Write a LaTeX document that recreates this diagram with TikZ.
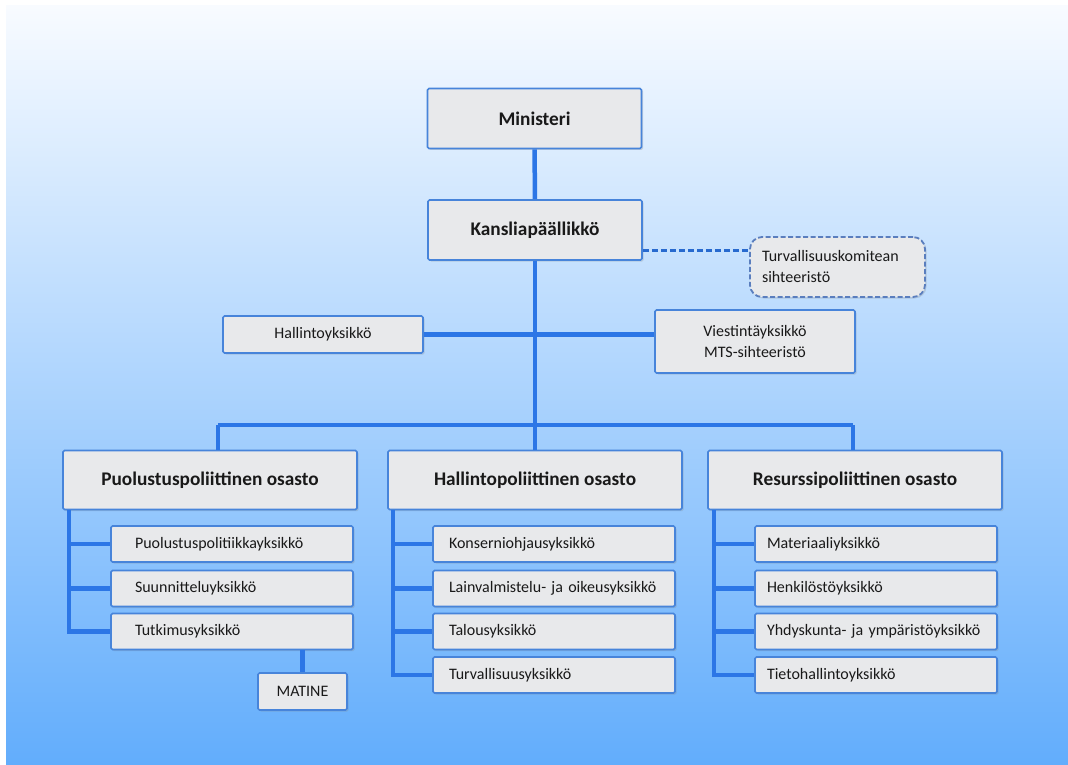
\documentclass[tikz,border=0pt]{standalone}
\usepackage{fontspec}
\setmainfont{Carlito}
\usetikzlibrary{shadows}
\definecolor{bgtop}{HTML}{F8FBFF}
\definecolor{bgbot}{HTML}{62ADFC}
\definecolor{boxfill}{HTML}{E8E9EB}
\definecolor{boxline}{HTML}{4784DA}
\definecolor{linkblue}{HTML}{2C76E6}
\definecolor{dashline}{HTML}{5A7EBE}
\tikzset{
  box/.style={draw=boxline, line width=1.6pt, fill=boxfill, rounded corners=1.5pt,
    drop shadow={opacity=0.25, shadow xshift=1.5pt, shadow yshift=-1.5pt}, text=black!90},
  head/.style={box, font=\fontsize{19.3}{22}\selectfont\bfseries, minimum width=214pt, minimum height=60pt},
  dept/.style={box, font=\fontsize{19.3}{22}\selectfont\bfseries, minimum width=294pt, minimum height=59pt},
  unit/.style={box, font=\fontsize{16}{21}\selectfont, minimum height=36pt, inner ysep=0pt, align=left},
  unitL/.style={unit, inner xsep=24pt, text width=194pt},
  unitM/.style={unit, inner xsep=16pt, text width=210pt},
  unitR/.style={unit, inner xsep=12pt, text width=218pt},
  link/.style={draw=linkblue, line width=4.5pt},
}
\begin{document}
\begin{tikzpicture}[x=1pt,y=-1pt]
\useasboundingbox (0,0) rectangle (1068,765);
\fill[white] (0,0) rectangle (1068,765);
\shade[top color=bgtop, bottom color=bgbot] (6,6) rectangle (1068,765);

% top of the ministry
\node[head] (min) at (534.5,118.5) {Ministeri};
\node[head] (kans) at (535,230) {Kansliapäällikkö};
\node[draw=dashline, dash pattern=on 5pt off 2.5pt, line width=1.8pt, fill=boxfill, rounded corners=12pt,
  drop shadow={opacity=0.25, shadow xshift=1.5pt, shadow yshift=-1.5pt},
  font=\fontsize{16}{21}\selectfont, align=left, text width=151pt, inner xsep=12pt,
  minimum height=60pt, text=black!90] (turva) at (837.5,267) {Turvallisuuskomitean\\sihteeristö};
\node[box, font=\fontsize{16}{21}\selectfont, minimum width=200pt, minimum height=37pt] (hall) at (323,334.5) {Hallintoyksikkö};
\node[box, font=\fontsize{16}{21}\selectfont, align=center, minimum width=200pt, minimum height=63pt] (viest) at (755,341.5) {Viestintäyksikkö\\MTS-sihteeristö};

% departments
\node[dept] (dep1) at (210,480) {Puolustuspoliittinen osasto};
\node[dept] (dep2) at (535,480) {Hallintopoliittinen osasto};
\node[dept] (dep3) at (855,480) {Resurssipoliittinen osasto};

\node[unitL] (u11) at (232,544) {Puolustuspolitiikkayksikkö};
\node[unitL] (u12) at (232,588.5) {Suunnitteluyksikkö};
\node[unitL] (u13) at (232,631.5) {Tutkimusyksikkö};
\node[box, font=\fontsize{16}{21}\selectfont, minimum width=89pt, minimum height=37pt] (matine) at (302.5,691.5) {MATINE};

\node[unitM] (u21) at (554,544) {Konserniohjausyksikkö};
\node[unitM] (u22) at (554,588.5) {Lainvalmistelu- ja oikeusyksikkö};
\node[unitM] (u23) at (554,631.5) {Talousyksikkö};
\node[unitM] (u24) at (554,675) {Turvallisuusyksikkö};

\node[unitR] (u31) at (876,544) {Materiaaliyksikkö};
\node[unitR] (u32) at (876,588.5) {Henkilöstöyksikkö};
\node[unitR] (u33) at (876,631.5) {Yhdyskunta- ja ympäristöyksikkö};
\node[unitR] (u34) at (876,675) {Tietohallintoyksikkö};

% connectors
\coordinate (bus) at (535,425);
\coordinate (busL) at (218,425);
\coordinate (busR) at (853,425);
\draw[link] (min) -- (kans);
\draw[link] (kans) -- (bus);
\draw[link] (hall.east) -- (hall.east -| viest.west);
\draw[draw=linkblue!90!black, line width=3pt, dash pattern=on 6pt off 3pt]
  ([yshift=-20pt]kans.east) -- ([yshift=-20pt]kans.east -| turva.west);
\draw[link] (busL) -- (busR);
\draw[link] (busL) -- (busL |- dep1.north);
\draw[link] (bus) -- (dep2.north);
\draw[link] (busR) -- (busR |- dep3.north);

\coordinate (s1) at ([xshift=7pt]dep1.south west);
\coordinate (s2) at ([xshift=6pt]dep2.south west);
\coordinate (s3) at ([xshift=7pt]dep3.south west);
\draw[link] (s1) |- (u13.west);
\draw[link] (s1 |- u11.west) -- (u11.west);
\draw[link] (s1 |- u12.west) -- (u12.west);
\draw[link] (u13.south -| matine) -- (matine.north);
\draw[link] (s2) |- (u24.west);
\foreach \u in {u21,u22,u23}
  \draw[link] (s2 |- \u.west) -- (\u.west);
\draw[link] (s3) |- (u34.west);
\foreach \u in {u31,u32,u33}
  \draw[link] (s3 |- \u.west) -- (\u.west);
\end{tikzpicture}
\end{document}
